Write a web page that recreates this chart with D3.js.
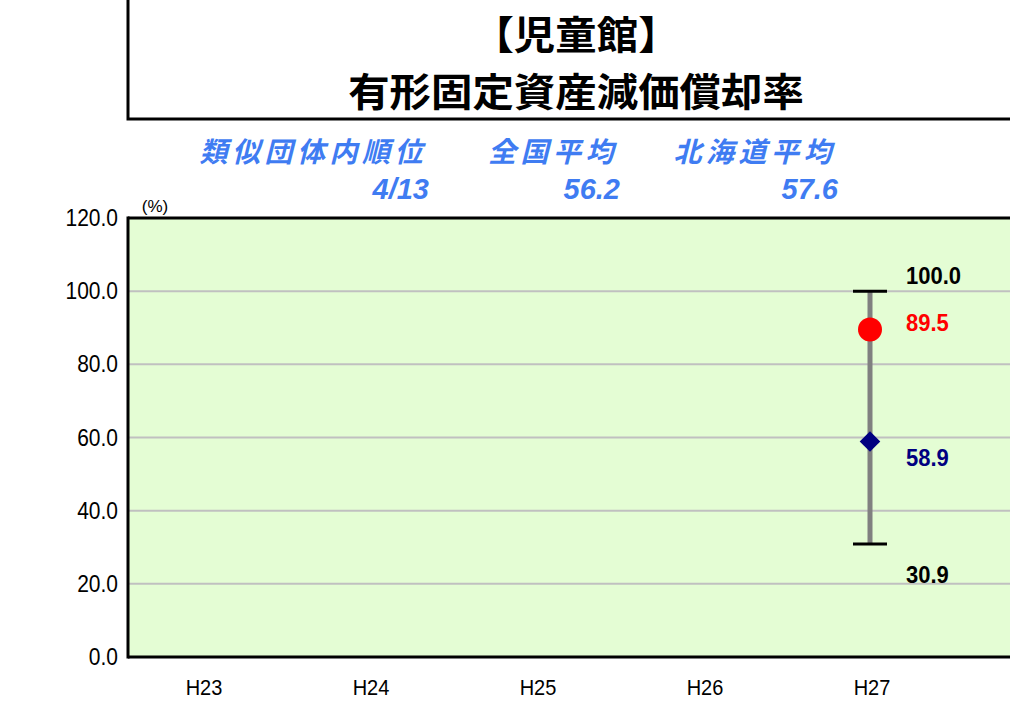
<!DOCTYPE html>
<html><head><meta charset="utf-8">
<script src="https://cdn.jsdelivr.net/npm/d3@7"></script>
<style>body{margin:0;background:#fff}svg{display:block}</style>
</head><body>
<svg id="c" width="1010" height="723"></svg>
<script>
const categories = ["H23","H24","H25","H26","H27"];
const maxValues = [null,null,null,null,100.0];
const minValues = [null,null,null,null,30.9];
const ownValues = [null,null,null,null,89.5];
const avgValues = [null,null,null,null,58.9];
const yTicks = [0,20,40,60,80,100,120];
const titleLines = ["【児童館】","有形固定資産減価償却率"];
const infoLabels = ["類似団体内順位","全国平均","北海道平均"];
const infoValues = ["4/13","56.2","57.6"];

const svg = d3.select("#c");
const L=128, T=218, B=657, R=1015;
const y = d3.scaleLinear().domain([0,120]).range([B,T]);
const x = d3.scalePoint().domain(categories).range([202,870]);
const jp = "'Noto Sans CJK JP','Noto Sans CJK SC',sans-serif";
const lat = "'Liberation Sans',Arial,sans-serif";
const blue = "#3f7cf2";

// title box
svg.append("rect").attr("x",L).attr("y",-5).attr("width",R-L).attr("height",124)
  .attr("fill","#fff").attr("stroke","#000").attr("stroke-width",3);
svg.selectAll(".title").data(titleLines).join("text")
  .attr("text-anchor","middle")
  .attr("transform",(d,i)=>`translate(576,${49+i*57}) scale(1.12,1.06)`)
  .attr("font-family",jp).attr("font-weight","bold").attr("font-size",37)
  .attr("fill","#000").text(d=>d);

// info texts
const infoRight=[427,618,836];
svg.selectAll(".il").data(infoLabels).join("text")
  .attr("x",(d,i)=>infoRight[i]).attr("y",162).attr("text-anchor","end")
  .attr("font-family",jp).attr("font-weight","bold").attr("font-style","italic")
  .attr("font-size",28).attr("letter-spacing",4.5).attr("fill",blue).text(d=>d);
svg.selectAll(".iv").data(infoValues).join("text")
  .attr("x",(d,i)=>infoRight[i]+2).attr("y",199).attr("text-anchor","end")
  .attr("font-family",lat).attr("font-weight","bold").attr("font-style","italic")
  .attr("font-size",29).attr("fill",blue).text(d=>d);

// plot area
svg.append("rect").attr("x",L).attr("y",T).attr("width",R-L).attr("height",B-T)
  .attr("fill","#e4fdd4");
svg.selectAll(".grid").data(yTicks.filter(v=>v>0&&v<120)).join("line")
  .attr("x1",L).attr("x2",R).attr("y1",d=>y(d)).attr("y2",d=>y(d))
  .attr("stroke","#c0c0c0").attr("stroke-width",2);
svg.append("line").attr("x1",L).attr("x2",R).attr("y1",T).attr("y2",T).attr("stroke","#000").attr("stroke-width",3);
svg.append("line").attr("x1",L).attr("x2",R).attr("y1",B).attr("y2",B).attr("stroke","#000").attr("stroke-width",3);
svg.append("line").attr("x1",L).attr("x2",L).attr("y1",T-1.5).attr("y2",B+1.5).attr("stroke","#000").attr("stroke-width",3);

// y axis labels
svg.selectAll(".yl").data(yTicks).join("text")
  .attr("text-anchor","end")
  .attr("transform",d=>`translate(118,${y(d)+8}) scale(1,1.1)`)
  .attr("font-family",lat).attr("font-size",21).attr("fill","#000").text(d=>d.toFixed(1));
svg.append("text").attr("x",155).attr("y",212).attr("text-anchor","middle")
  .attr("font-family",lat).attr("font-size",17).text("(%)");

// x labels
svg.selectAll(".xl").data(categories).join("text")
  .attr("text-anchor","middle")
  .attr("transform",d=>`translate(${x(d)+2},695) scale(1,1.1)`)
  .attr("font-family",lat).attr("font-size",20).attr("fill","#000").text(d=>d);

// error bars
const idx = categories.map((c,i)=>i).filter(i=>maxValues[i]!=null);
idx.forEach(i=>{
  const cx=x(categories[i]);
  svg.append("line").attr("x1",cx).attr("x2",cx).attr("y1",y(maxValues[i])).attr("y2",y(minValues[i]))
    .attr("stroke","#808080").attr("stroke-width",5);
  [maxValues[i],minValues[i]].forEach(v=>{
    svg.append("line").attr("x1",cx-17).attr("x2",cx+17).attr("y1",y(v)).attr("y2",y(v))
      .attr("stroke","#000").attr("stroke-width",3);
  });
  svg.append("circle").attr("cx",cx).attr("cy",y(ownValues[i])).attr("r",12).attr("fill","#ff0000");
  svg.append("path").attr("d",d3.symbol().type(d3.symbolDiamond2).size(270)())
    .attr("transform",`translate(${cx},${y(avgValues[i])})`).attr("fill","#000080");
  const lx=cx+36;
  const lab=(v,dy,col)=>svg.append("text")
    .attr("transform",`translate(${lx},${y(v)+dy}) scale(1,1.1)`).attr("font-family",lat)
    .attr("font-weight","bold").attr("font-size",22).attr("fill",col).text(v.toFixed(1));
  lab(maxValues[i],-7,"#000");
  lab(ownValues[i],1,"#ff0000");
  lab(avgValues[i],24,"#000080");
  lab(minValues[i],39,"#000");
});
</script>
</body></html>
